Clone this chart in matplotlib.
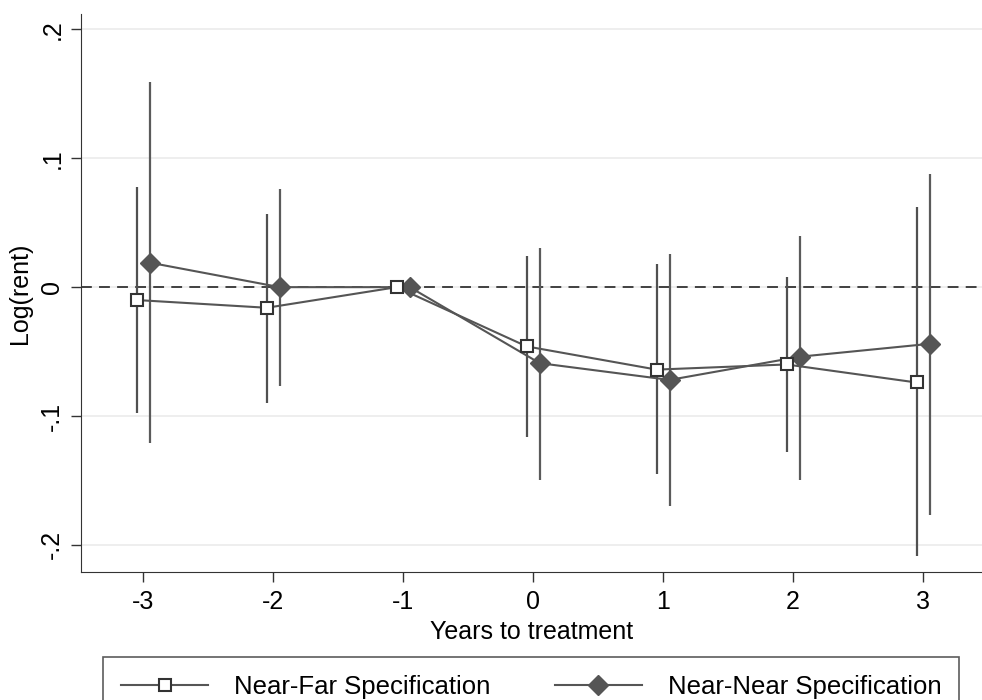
import numpy as np
import matplotlib
matplotlib.use("Agg")
import matplotlib.pyplot as plt

plt.rcParams['font.family'] = ['Liberation Sans', 'DejaVu Sans']

# years relative to treatment
years = [-3, -2, -1, 0, 1, 2, 3]

# Near-Far specification: point estimate and 95% CI
nf_coef = [-0.010, -0.016, 0.0, -0.046, -0.064, -0.060, -0.074]
nf_lo = [-0.098, -0.090, 0.0, -0.116, -0.145, -0.128, -0.209]
nf_hi = [0.078, 0.057, 0.0, 0.024, 0.018, 0.008, 0.062]

# Near-Near specification
nn_coef = [0.019, 0.0, 0.0, -0.059, -0.072, -0.054, -0.044]
nn_lo = [-0.121, -0.077, 0.0, -0.150, -0.170, -0.150, -0.177]
nn_hi = [0.159, 0.076, 0.0, 0.030, 0.026, 0.040, 0.088]

yticks = [-0.2, -0.1, 0, 0.1, 0.2]
ytick_labels = ['-.2', '-.1', '0', '.1', '.2']

fig = plt.figure(figsize=(9.82, 7.0), dpi=100)
ax = fig.add_axes([0.0825, 0.183, 0.917, 0.797])

x = np.array(years, dtype=float)
off = 0.05
line_col = '#555555'

# grid and zero line
for yt in yticks:
    ax.axhline(yt, color='#ebebeb', lw=1.2, zorder=0)
ax.axhline(0, color='#333333', lw=1.3, ls=(0, (6, 4)), zorder=1)

# confidence intervals
ax.vlines(x - off, nf_lo, nf_hi, color='#505050', lw=1.6, zorder=2)
ax.vlines(x + off, nn_lo, nn_hi, color='#5a5a5a', lw=1.6, zorder=2)

# point estimates
ax.plot(x - off, nf_coef, color=line_col, lw=1.5, marker='s', ms=9,
        mfc='white', mec='#333333', mew=1.5, zorder=4,
        label='Near-Far Specification')
ax.plot(x + off, nn_coef, color=line_col, lw=1.5, marker='D', ms=10,
        mfc='#555555', mec='#555555', zorder=3,
        label='Near-Near Specification')

ax.set_xlim(-3.48, 3.45)
ax.set_ylim(-0.221, 0.212)
ax.set_xticks(years)
ax.set_xticklabels([str(v) for v in years])
ax.set_yticks(yticks)
ax.set_yticklabels(ytick_labels, rotation=90, va='center')
ax.tick_params(axis='both', labelsize=18, length=7, width=1, color='#333333')
ax.tick_params(axis='x', pad=6)
ax.tick_params(axis='y', pad=5)

ax.spines['top'].set_visible(False)
ax.spines['right'].set_visible(False)
ax.spines['left'].set_color('#333333')
ax.spines['bottom'].set_color('#333333')

ax.set_xlabel('Years to treatment', fontsize=18, labelpad=4)
ax.set_ylabel('Log(rent)', fontsize=18, labelpad=6)

leg = fig.legend(loc='upper center', bbox_to_anchor=(0.541, 0.061), ncol=2,
                 fontsize=18.5, frameon=True, fancybox=False, edgecolor='#333333',
                 handlelength=3.4, handletextpad=1.0, columnspacing=2.5,
                 borderpad=0.7, borderaxespad=0)
leg.get_frame().set_linewidth(1.2)

fig.savefig('out.png', dpi=100)
